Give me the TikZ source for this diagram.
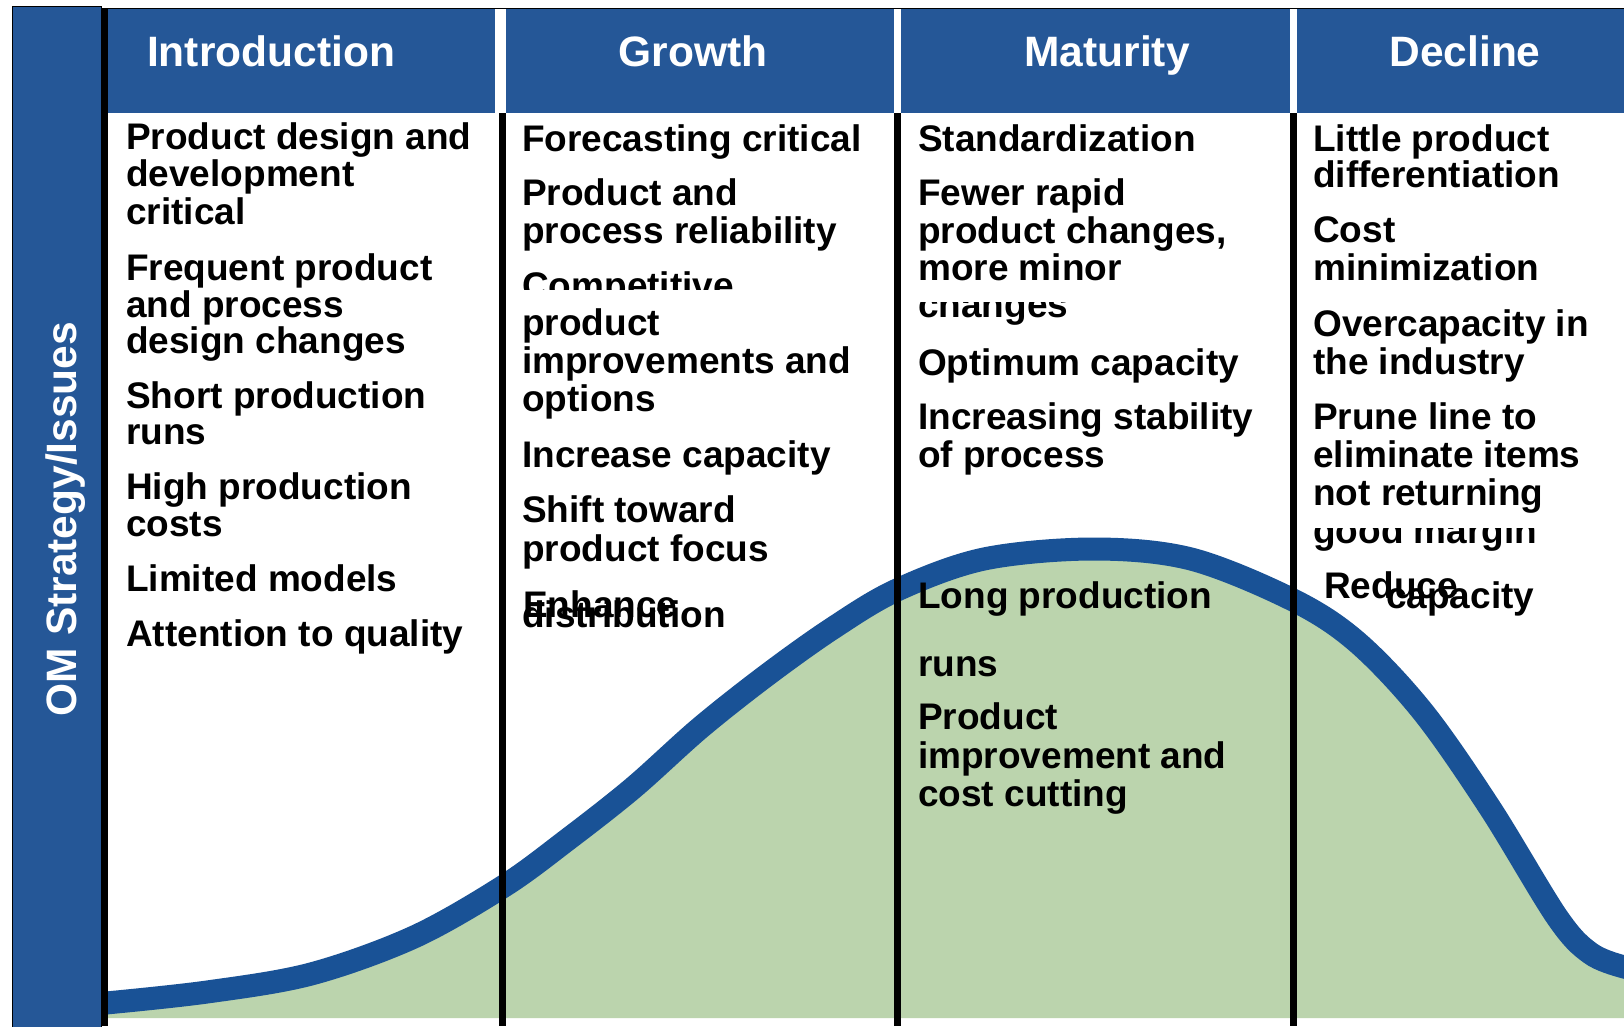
\documentclass[tikz,border=0pt]{standalone}
\usepackage{fontspec}
\setmainfont{Liberation Sans}
\definecolor{hdrblue}{RGB}{37,87,151}
\definecolor{curveblue}{RGB}{25,82,150}
\definecolor{fillgreen}{RGB}{187,212,173}
\begin{document}
\begin{tikzpicture}[x=1pt,y=-1pt,
  txt/.style={anchor=base west, inner sep=0pt, font=\bfseries\fontsize{37}{37}\selectfont},
  hdr/.style={anchor=base, inner sep=0pt, text=white, font=\bfseries\fontsize{42.5}{42.5}\selectfont},
  hdrbox/.style={fill=hdrblue},
  colline/.style={line width=6.5pt, black},
  curvepath/.style={smooth, tension=0.55}]
\useasboundingbox (0,0) rectangle (1624,1026);
\clip (0,0) rectangle (1624,1026);
\fill[white] (0,0) rectangle (1624,1026);
% life cycle curve
\fill[fillgreen] plot[curvepath] coordinates {(106,1003) (207,992) (311,974) (414,937) (504,886) (567,840) (633,788) (700,728) (767,675) (833,628) (897,590) (984,559) (1093,549) (1191,559) (1293,600) (1357,642) (1423,712) (1490,808) (1557,917) (1590,953) (1624,967) (1640,968)} -- (1640,1018) -- (106,1018) -- cycle;
\draw[curveblue, line width=23pt] plot[curvepath] coordinates {(106,1003) (207,992) (311,974) (414,937) (504,886) (567,840) (633,788) (700,728) (767,675) (833,628) (897,590) (984,559) (1093,549) (1191,559) (1293,600) (1357,642) (1423,712) (1490,808) (1557,917) (1590,953) (1624,967) (1640,968)};
% left bar
\filldraw[fill=hdrblue, draw=black, line width=1pt] (12.5,6) rectangle (101,1030);
\node[hdr, rotate=90] (side) at (76,519) {OM Strategy/Issues};
% headers
\draw[black, line width=1.2pt] (104,8.5) -- (1624,8.5);
\fill[hdrbox] (108,9) rectangle (495,113);
\fill[hdrbox] (506,9) rectangle (894,113);
\fill[hdrbox] (901,9) rectangle (1290,113);
\fill[hdrbox] (1297,9) rectangle (1624,113);
\node[hdr] (h1) at (271,66) {Introduction};
\node[hdr] (h2) at (693,66) {Growth};
\node[hdr] (h3) at (1107,66) {Maturity};
\node[hdr] (h4) at (1465,66) {Decline};
% column lines
\draw[colline] (104.5,8) -- (104.5,1026);
\draw[colline] (502.5,113) -- (502.5,1026);
\draw[colline] (897.5,113) -- (897.5,1026);
\draw[colline] (1293.5,113) -- (1293.5,1026);
% column 1
\node[txt] (a1) at (126,149) {Product design and};
\node[txt] (a2) at (126,186) {development};
\node[txt] (a3) at (126,224) {critical};
\node[txt] (a4) at (126,280) {Frequent product};
\node[txt] (a5) at (126,317) {and process};
\node[txt] (a6) at (126,353) {design changes};
\node[txt] (a7) at (126,408) {Short production};
\node[txt] (a8) at (126,444) {runs};
\node[txt] (a9) at (126,499) {High production};
\node[txt] (a10) at (126,536) {costs};
\node[txt] (a11) at (126,591) {Limited models};
\node[txt] (a12) at (126,646) {Attention to quality};
% column 2
\node[txt] (b1) at (522,151) {Forecasting critical};
\node[txt] (b2) at (522,205) {Product and};
\node[txt] (b3) at (522,243) {process reliability};
\begin{scope}
  \clip (505,250) rectangle (895,289);
  \node[txt] (b4) at (522,298) {Competitive};
\end{scope}
\node[txt] (b5) at (522,335) {product};
\node[txt] (b6) at (522,373) {improvements and};
\node[txt] (b7) at (522,411) {options};
\node[txt] (b8) at (522,467) {Increase capacity};
\node[txt] (b9) at (522,522) {Shift toward};
\node[txt] (b10) at (522,561) {product focus};
\node[txt] (b11) at (523,617) {Enhance};
\node[txt] (b12) at (522,627) {distribution};
% column 3
\node[txt] (c1) at (918,151) {Standardization};
\node[txt] (c2) at (918,205) {Fewer rapid};
\node[txt] (c3) at (918,243) {product changes,};
\node[txt] (c4) at (918,280) {more minor};
\begin{scope}
  \clip (900,302) rectangle (1290,340);
  \node[txt] (c5) at (918,317) {changes};
\end{scope}
\node[txt] (c6) at (918,375) {Optimum capacity};
\node[txt] (c7) at (918,429) {Increasing stability};
\node[txt] (c8) at (918,467) {of process};
\node[txt] (c9) at (918,608) {Long production};
\node[txt] (c10) at (918,676) {runs};
\node[txt] (c11) at (918,729) {Product};
\node[txt] (c12) at (918,768) {improvement and};
\node[txt] (c13) at (918,806) {cost cutting};
% column 4
\node[txt] (d1) at (1313,151) {Little product};
\node[txt] (d2) at (1313,187) {differentiation};
\node[txt] (d3) at (1313,242) {Cost};
\node[txt] (d4) at (1313,280) {minimization};
\node[txt] (d5) at (1313,336) {Overcapacity in};
\node[txt] (d6) at (1313,374) {the industry};
\node[txt] (d7) at (1313,429) {Prune line to};
\node[txt] (d8) at (1313,467) {eliminate items};
\node[txt] (d9) at (1313,505) {not returning};
\begin{scope}
  \clip (1297,528) rectangle (1624,570);
  \node[txt] (d10) at (1313,543) {good margin};
\end{scope}
\node[txt] (d11) at (1324,598) {Reduce};
\node[txt] (d12) at (1386,608) {capacity};
\end{tikzpicture}
\end{document}
